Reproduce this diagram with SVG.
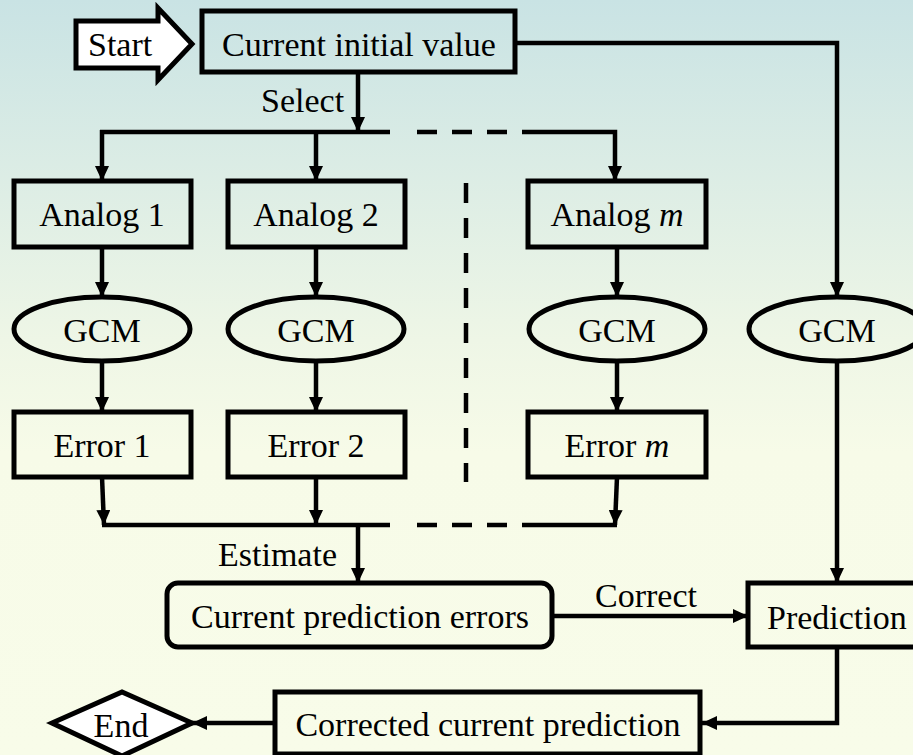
<svg xmlns="http://www.w3.org/2000/svg" width="913" height="755" viewBox="0 0 913 755">
<defs>
<linearGradient id="bg" x1="0" y1="0" x2="0" y2="1">
<stop offset="0" stop-color="#c9e3e4"/>
<stop offset="0.45" stop-color="#eef6e6"/>
<stop offset="0.6" stop-color="#f7fbe8"/>
<stop offset="1" stop-color="#f8fce9"/>
</linearGradient>
<marker id="ah" markerUnits="userSpaceOnUse" markerWidth="15" markerHeight="14" refX="15" refY="7" orient="auto">
<path d="M0,0 L15,7 L0,14 z" fill="#000"/>
</marker>
</defs>
<style>
.box{fill:none;stroke:#000;stroke-width:5}
.wbox{fill:#fff;stroke:#000;stroke-width:5;stroke-linejoin:miter}
.ln{fill:none;stroke:#000;stroke-width:4.5}
.arr{fill:none;stroke:#000;stroke-width:4.5;marker-end:url(#ah)}
.dash{fill:none;stroke:#000;stroke-width:4.5;stroke-dasharray:20 15}
text{font-family:"Liberation Serif","Times New Roman",serif;font-size:34px;fill:#000}
.c{text-anchor:middle}
</style>
<rect x="0" y="0" width="913" height="755" fill="url(#bg)"/>

<g id="start">
<polygon class="wbox" points="76,21 158,21 158,8 192,44 158,80 158,68 76,68"/>
<text x="88" y="56">Start</text>
</g>
<g id="current-initial-value">
<rect class="box" x="202" y="11" width="313" height="61"/>
<text class="c" x="359" y="56">Current initial value</text>
</g>
<g id="analog1">
<rect class="box" x="14" y="181" width="177" height="66"/>
<text class="c" x="102" y="226">Analog 1</text>
</g>
<g id="analog2">
<rect class="box" x="228" y="181" width="177" height="66"/>
<text class="c" x="316" y="226">Analog 2</text>
</g>
<g id="analogm">
<rect class="box" x="528" y="181" width="178" height="66"/>
<text class="c" x="617" y="226">Analog <tspan font-style="italic">m</tspan></text>
</g>
<g id="gcm1">
<ellipse class="box" cx="102" cy="329" rx="88" ry="32"/>
<text class="c" x="102" y="342">GCM</text>
</g>
<g id="gcm2">
<ellipse class="box" cx="316" cy="329" rx="88" ry="32"/>
<text class="c" x="316" y="342">GCM</text>
</g>
<g id="gcmm">
<ellipse class="box" cx="617" cy="329" rx="88" ry="32"/>
<text class="c" x="617" y="342">GCM</text>
</g>
<g id="gcm-direct">
<ellipse class="box" cx="837" cy="329" rx="88" ry="32"/>
<text class="c" x="837" y="342">GCM</text>
</g>
<g id="error1">
<rect class="box" x="14" y="412" width="177" height="65"/>
<text class="c" x="102" y="457">Error 1</text>
</g>
<g id="error2">
<rect class="box" x="228" y="412" width="177" height="65"/>
<text class="c" x="316" y="457">Error 2</text>
</g>
<g id="errorm">
<rect class="box" x="528" y="412" width="178" height="65"/>
<text class="c" x="617" y="457">Error <tspan font-style="italic">m</tspan></text>
</g>
<g id="current-prediction-errors">
<rect class="box" x="167" y="583" width="385" height="64" rx="11" ry="11"/>
<text class="c" x="360" y="628">Current prediction errors</text>
</g>
<g id="prediction">
<rect class="box" x="748" y="583" width="170" height="64"/>
<text x="767" y="629">Prediction</text>
</g>
<g id="corrected-current-prediction">
<rect class="box" x="275" y="692" width="425" height="62"/>
<text class="c" x="488" y="736">Corrected current prediction</text>
</g>
<g id="end">
<polygon class="wbox" points="52,723 122,692 192,723 122,756"/>
<text class="c" x="121" y="737">End</text>
</g>

<g id="connectors">
<line class="arr" x1="358" y1="74" x2="358" y2="132"/>
<polyline class="ln" points="100,132 390,132"/>
<line class="dash" x1="417" y1="132" x2="507" y2="132"/>
<polyline class="arr" points="522,132 615,132 615,181"/>
<line class="arr" x1="102" y1="130" x2="102" y2="181"/>
<line class="arr" x1="316" y1="132" x2="316" y2="181"/>
<line class="arr" x1="102" y1="247" x2="102" y2="297"/>
<line class="arr" x1="316" y1="247" x2="316" y2="297"/>
<line class="arr" x1="617" y1="247" x2="617" y2="297"/>
<line class="arr" x1="102" y1="361" x2="102" y2="412"/>
<line class="arr" x1="316" y1="361" x2="316" y2="412"/>
<line class="arr" x1="617" y1="361" x2="617" y2="412"/>
<line class="dash" x1="466" y1="183" x2="466" y2="482"/>
<polyline class="arr" points="515,43 837,43 837,297"/>
<line class="arr" x1="102" y1="477" x2="104" y2="525"/>
<line class="arr" x1="316" y1="477" x2="316" y2="525"/>
<line class="arr" x1="617" y1="477" x2="615" y2="525"/>
<polyline class="ln" points="102,525 390,525"/>
<line class="dash" x1="417" y1="525" x2="507" y2="525"/>
<polyline class="ln" points="522,525 617,525"/>
<line class="arr" x1="358" y1="525" x2="358" y2="583"/>
<text x="218" y="566">Estimate</text>
<text x="261" y="112">Select</text>
<line class="arr" x1="552" y1="616" x2="748" y2="616"/>
<text class="c" x="646" y="607">Correct</text>
<line class="arr" x1="837" y1="361" x2="837" y2="583"/>
<polyline class="arr" points="837,647 837,723 702,723"/>
<line class="arr" x1="275" y1="723" x2="192" y2="723"/>
</g>
</svg>
